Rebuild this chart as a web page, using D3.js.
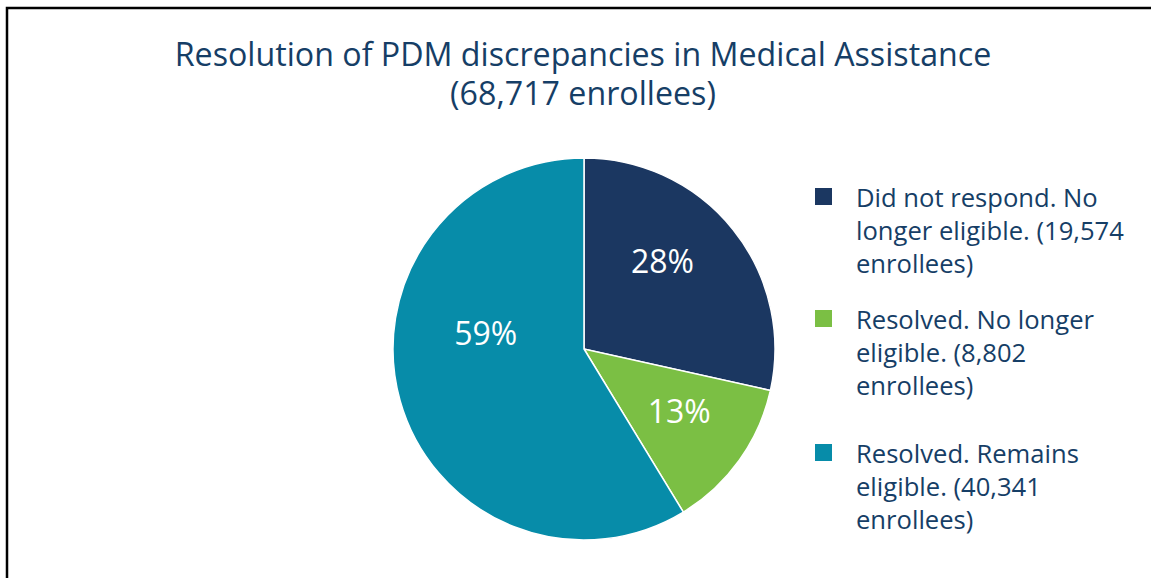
<!DOCTYPE html>
<html>
<head>
<meta charset="utf-8">
<script src="https://cdn.jsdelivr.net/npm/d3@7"></script>
<style>
  body { margin: 0; background: #fff; }
  svg { display: block; font-family: "Open Sans", Lato, sans-serif; }
</style>
</head>
<body>
<div id="chart"></div>
<script>
// data
const categories = [
    ["Did not respond. No", "longer eligible. (19,574", "enrollees)"],
    ["Resolved. No longer", "eligible. (8,802", "enrollees)"],
    ["Resolved. Remains", "eligible. (40,341", "enrollees)"]
];
const enrollees = [19574, 8802, 40341];
const pctLabels = ["28%", "13%", "59%"];
const titleLines = ["Resolution of PDM discrepancies in Medical Assistance", "(68,717 enrollees)"];

const colors = ["#1b3761", "#7bbf44", "#078ca9"];
const textColor = "#163e66";

const width = 1151, height = 578;
const cx = 584, cy = 349, radius = 191;

// excel puts its labels in odd places, nudge them a bit
const labelNudge = [[-11, -16], [2, -4], [12, -46]];
const legendY = [207, 329, 463];
const lineStep = 33;

let svg = d3.select("#chart").append("svg")
    .attr("width", width)
    .attr("height", height);

// frame (only left + top visible in the source)
svg.append("path")
    .attr("d", `M7,${height} L7,8 L${width},8`)
    .attr("fill", "none")
    .attr("stroke", "#000")
    .attr("stroke-width", 2.5);

// title
svg.append("g")
    .selectAll("text")
    .data(titleLines)
    .enter()
    .append("text")
    .attr("x", 583)
    .attr("y", (d, i) => 66 + i * 39)
    .attr("text-anchor", "middle")
    .attr("font-size", 32.2)
    .attr("fill", textColor)
    .text(d => d);

// pie
let pie = d3.pie().sort(null).value(d => d);
let arc = d3.arc().innerRadius(0).outerRadius(radius);
let labelArc = d3.arc().innerRadius(radius * 0.6).outerRadius(radius * 0.6);

let g = svg.append("g")
    .attr("transform", `translate(${cx},${cy})`);

let slices = pie(enrollees);

g.selectAll("path")
    .data(slices)
    .enter()
    .append("path")
    .attr("d", arc)
    .attr("fill", (d, i) => colors[i])
    .attr("stroke", "#fff")
    .attr("stroke-width", 1.5);

g.selectAll("text")
    .data(slices)
    .enter()
    .append("text")
    .attr("transform", (d, i) => {
        let c = labelArc.centroid(d);
        return `translate(${c[0] + labelNudge[i][0]},${c[1] + labelNudge[i][1]})`;
    })
    .attr("text-anchor", "middle")
    .attr("dy", "0.36em")
    .attr("font-size", 32)
    .attr("fill", "#fff")
    .text((d, i) => pctLabels[i]);

// legend
let legend = svg.append("g")
    .attr("class", "legend");

let items = legend.selectAll("g")
    .data(categories)
    .enter()
    .append("g")
    .attr("transform", (d, i) => `translate(815, ${legendY[i]})`);

items.append("rect")
    .attr("x", 0)
    .attr("y", -19)
    .attr("width", 17)
    .attr("height", 17)
    .attr("fill", (d, i) => colors[i]);

items.each(function(lines) {
    d3.select(this).selectAll("text")
        .data(lines)
        .enter()
        .append("text")
        .attr("x", 41)
        .attr("y", (d, j) => j * lineStep)
        .attr("font-size", 25.6)
        .attr("fill", textColor)
        .text(d => d);
});
</script>
</body>
</html>
